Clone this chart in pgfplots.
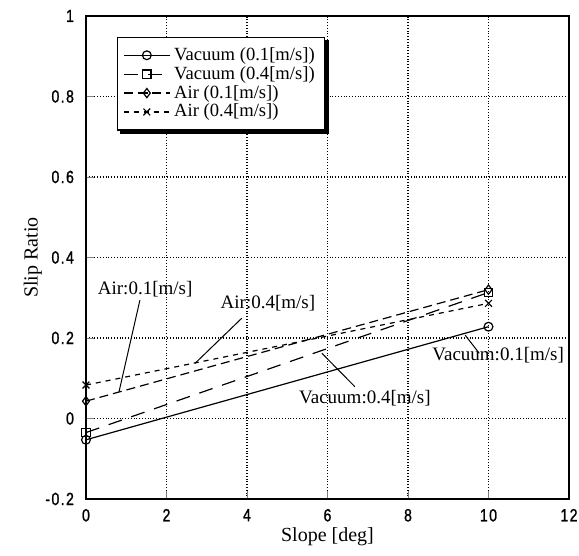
\documentclass[border=0pt]{standalone}
\usepackage{fontspec}
\setmainfont{Liberation Serif}
\newfontfamily\tickfont[FakeStretch=0.8,FakeBold=1.2,LetterSpace=8]{Liberation Sans}
\usepackage{pgfplots}
\pgfplotsset{compat=1.18}
\begin{document}
\begin{tikzpicture}
\begin{axis}[
    scale only axis,
    width=241.5pt, height=241.5pt,
    xmin=0, xmax=12, ymin=-0.2, ymax=1,
    xtick={0,2,...,12},
    ytick={-0.2,0,0.2,0.4,0.6,0.8,1},
    yticklabels={-0.2,0,0.2,0.4,0.6,0.8,1},
    xtick pos=left, ytick pos=left,
    tick align=inside,
    major tick length=4pt,
    grid=major,
    major grid style={black, densely dotted, line width=0.6pt},
    axis line style={line width=0.8pt},
    /pgf/number format/assume math mode=true,
    ticklabel style={font=\tickfont\fontsize{8.8}{10}\selectfont},
    yticklabel style={xshift=-2.5pt},
    xticklabel style={yshift=-1.5pt},
    xlabel={Slope [deg]},
    ylabel={Slip Ratio},
    label style={font=\fontsize{10}{11}\selectfont},
    xlabel style={at={(axis description cs:0.5,-0.079)}, anchor=center},
    ylabel style={at={(axis description cs:-0.11,0.5)}, anchor=center},
    legend style={
        name=leg,
        at={(0.064,0.957)}, anchor=north west,
        font=\fontsize{9.3}{10}\selectfont,
        draw=black, line width=0.6pt, fill=white,
        row sep=-2.5pt, inner sep=3pt,
        cells={anchor=west},
    },
    legend image code/.code={
        \draw[mark repeat=2,mark phase=2]
        plot coordinates {(0cm,0cm) (0.4cm,0cm) (0.8cm,0cm)};
    },
    every axis plot/.append style={black, line width=0.6pt},
]
\addplot[mark=o, mark size=2.2pt, mark options={solid}] coordinates {(0,-0.053) (10,0.228)};
\addlegendentry{Vacuum (0.1[m/s])}
\addplot[dash pattern=on 7pt off 5pt, mark=square, mark size=2.1pt, mark options={solid}] coordinates {(0,-0.035) (10,0.313)};
\addlegendentry{Vacuum (0.4[m/s])}
\addplot[dash pattern=on 4.5pt off 2.5pt, mark=diamond, mark size=2.3pt, mark options={solid}] coordinates {(0,0.043) (10,0.320)};
\addlegendentry{Air (0.1[m/s])}
\addplot[dash pattern=on 2.5pt off 2.5pt, mark=x, mark size=2.4pt, mark options={solid}] coordinates {(0,0.083) (10,0.286)};
\addlegendentry{Air (0.4[m/s])}

\draw[line width=0.5pt] (axis cs:1.34,0.294) -- (axis cs:0.82,0.066);
\node[font=\fontsize{9.5}{10}\selectfont] at (axis cs:1.47,0.322) {Air:0.1[m/s]};
\draw[line width=0.5pt] (axis cs:3.87,0.249) -- (axis cs:2.71,0.137);
\node[font=\fontsize{9.5}{10}\selectfont] at (axis cs:4.52,0.287) {Air:0.4[m/s]};
\draw[line width=0.5pt] (axis cs:5.86,0.162) -- (axis cs:6.68,0.079);
\node[font=\fontsize{9.5}{10}\selectfont] at (axis cs:6.93,0.051) {Vacuum:0.4[m/s]};
\draw[line width=0.5pt] (axis cs:9.42,0.207) -- (axis cs:9.77,0.162);
\node[font=\fontsize{9.5}{10}\selectfont] at (axis cs:10.24,0.158) {Vacuum:0.1[m/s]};

\coordinate (bbSW) at (axis description cs:-0.178,-0.116);
\coordinate (bbNE) at (axis description cs:1.0207,1.033);
\end{axis}
% shadow on the right and bottom of the legend box
\fill ([yshift=-1.8pt]leg.north east) rectangle ([xshift=1.8pt,yshift=-1.8pt]leg.south east);
\fill ([xshift=1.8pt]leg.south west) rectangle ([xshift=1.8pt,yshift=-1.8pt]leg.south east);
\pgfresetboundingbox
\useasboundingbox (bbSW) rectangle (bbNE);
\end{tikzpicture}
\end{document}
